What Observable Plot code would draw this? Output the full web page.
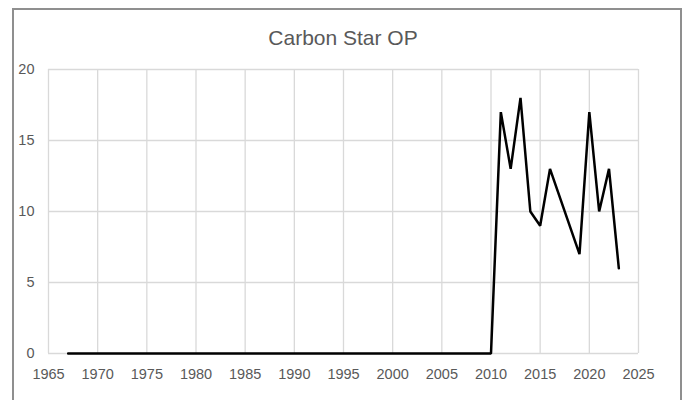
<!DOCTYPE html>
<html>
<head>
<meta charset="utf-8">
<script src="https://cdn.jsdelivr.net/npm/d3@7"></script>
<script src="https://cdn.jsdelivr.net/npm/@observablehq/plot@0.6"></script>
<style>
  html, body { margin: 0; padding: 0; background: #fff; overflow: hidden; }
  #wrap { position: relative; width: 686px; height: 400px; overflow: hidden; background: #fff; }
  #frame { position: absolute; left: 12px; top: 8px; width: 670px; height: 420px; border: 2px solid #8f8f8f; box-sizing: border-box; }
  #title { position: absolute; left: 0; top: 26px; width: 686px; text-align: center; font-family: "Liberation Sans", Arial, sans-serif; font-size: 21px; color: #595959; }
  #chart { position: absolute; left: 0; top: 0; }
  #chart svg text { font-size: 14.5px !important; font-family: "Liberation Sans", Arial, sans-serif !important; fill: #595959 !important; }
</style>
</head>
<body>
<div id="wrap">
  <div id="frame"></div>
  <div id="title">Carbon Star OP</div>
  <div id="chart"></div>
</div>
<script>
const title = "Carbon Star OP";
const years  = [1967, 2010, 2011, 2012, 2013, 2014, 2015, 2016, 2019, 2020, 2021, 2022, 2023];
const values = [0,    0,    17,   13,   18,   10,   9,    13,   7,    17,   10,   13,   6];
const xTicks = [1965, 1970, 1975, 1980, 1985, 1990, 1995, 2000, 2005, 2010, 2015, 2020, 2025];
const yTicks = [0, 5, 10, 15, 20];

const data = years.map((y, i) => ({year: y, value: values[i]}));

const chart = Plot.plot({
  width: 686,
  height: 400,
  marginLeft: 48,
  marginRight: 48,
  marginTop: 69,
  marginBottom: 47,
  style: {fontFamily: "'Liberation Sans', Arial, sans-serif", fontSize: "15px", color: "#595959", background: "transparent"},
  x: {domain: [1965, 2025]},
  y: {domain: [0, 20]},
  marks: [
    Plot.ruleX(xTicks, {stroke: "#d9d9d9", strokeWidth: 1.3}),
    Plot.ruleY(yTicks, {stroke: "#d9d9d9", strokeWidth: 1.3}),
    Plot.axisX({ticks: xTicks, tickSize: 0, tickPadding: 15, fontSize: 15, tickFormat: d => String(d), label: null}),
    Plot.axisY({ticks: yTicks, tickSize: 0, tickPadding: 14, fontSize: 15, label: null}),
    Plot.line(data, {x: "year", y: "value", stroke: "#000", strokeWidth: 2.5, strokeLinejoin: "miter"})
  ]
});
document.getElementById("chart").appendChild(chart);
</script>
</body>
</html>
